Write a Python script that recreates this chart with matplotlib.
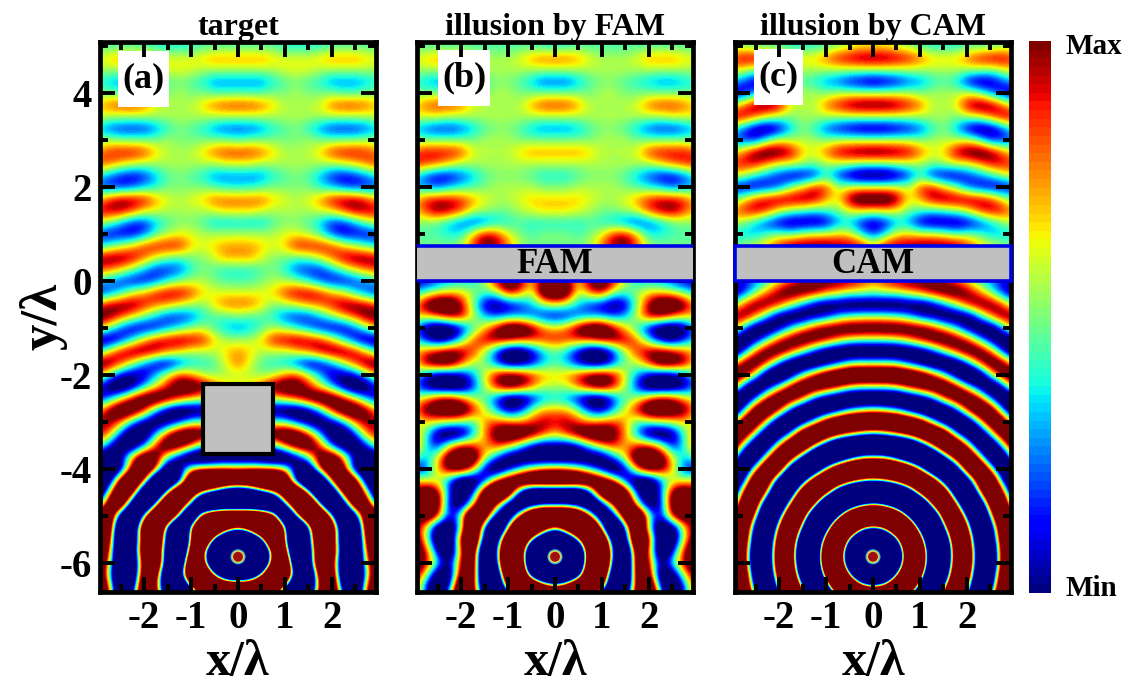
import numpy as np
import matplotlib
matplotlib.use("Agg")
import matplotlib.pyplot as plt
from matplotlib.patches import Rectangle, Circle

plt.rcParams['font.family'] = ['Liberation Serif', 'DejaVu Serif']
plt.rcParams['font.weight'] = 'bold'
plt.rcParams['axes.unicode_minus'] = False

# field, right half only (panels are mirror symmetric)
# columns are x/lambda, rows are y/lambda, +-8 is the end of the colour scale
x_half = [0, 0.25, 0.5, 0.75, 1, 1.25, 1.5, 1.75, 2, 2.25, 2.5, 2.75, 3]
y_rows = [5 - 0.25 * i for i in range(48)]

target_rows = [
    [-1, -1, -1, -1, -2, -2, -2, -2, -1, -1, -1, -1, -1],
    [4, 4, 4, 3, 2, 2, 2, 3, 4, 4, 4, 3, 2],
    [1, 1, 1, 1, 2, 2, 2, 1, 1, 1, 1, 1, 1],
    [-4, -4, -4, -2, -1, 0, -1, -2, -4, -4, -4, -3, -2],
    [-1, -1, -1, 0, 0, 1, 0, 0, 0, -1, -1, 0, 0],
    [6, 6, 5, 3, 1, 1, 1, 2, 5, 6, 6, 5, 3],
    [1, 1, 1, 1, 1, 1, 1, 1, 1, 1, 1, 1, 2],
    [-5, -5, -4, -2, -1, 0, -2, -4, -6, -6, -6, -5, -3],
    [-1, 0, 0, 0, 0, 0, 1, 0, 0, 0, 0, 1, 0],
    [6, 6, 5, 3, 1, 1, 1, 3, 6, 7, 7, 6, 4],
    [2, 2, 1, 1, 1, 1, 1, 1, 1, 2, 3, 5, 6],
    [-4, -4, -4, -2, -1, 0, -1, -3, -6, -7, -6, -4, -2],
    [-2, -2, -1, 0, 0, 0, 0, -2, -3, -5, -6, -6, -5],
    [5, 5, 5, 3, 2, 1, 2, 4, 7, 8, 8, 6, 3],
    [3, 3, 2, 1, 1, 1, 1, 2, 3, 6, 8, 8, 7],
    [-3, -3, -3, -1, 0, 0, -1, -3, -6, -6, -3, 0, 2],
    [1, 1, 1, 1, 2, 2, 1, -1, -5, -7, -7, -7, -6],
    [4, 4, 3, 2, 3, 7, 7, 7, 6, 3, 1, -1, -3],
    [4, 4, 2, 0, 0, -1, 0, 2, 5, 8, 9, 9, 8],
    [-2, -2, -1, 0, -2, -5, -6, -6, -3, 0, 3, 5, 6],
    [-1, -1, 0, 1, 1, 0, -2, -5, -7, -7, -6, -4, -2],
    [2, 2, 2, 3, 6, 8, 8, 7, 4, 2, -2, -5, -7],
    [5, 5, 3, 0, 1, 2, 4, 5, 7, 9, 9, 8, 5],
    [0, -1, -1, -2, -5, -6, -6, -3, 0, 3, 6, 9, 10],
    [-4, -3, -1, 1, 0, -2, -4, -7, -8, -8, -5, 0, 4],
    [1, 1, 3, 7, 8, 9, 8, 7, 3, -2, -7, -10, -9],
    [4, 3, 1, 1, 1, 3, 5, 8, 10, 10, 8, 3, -3],
    [5, 2, -1, -2, -3, -6, -9, -8, -4, 1, 6, 10, 11],
    [1, 1, 0, 1, 4, 6, 2, -3, -8, -9, -7, -1, 4],
    [3, 3, 6, 10, 12, 11, 7, 2, -3, -9, -13, -11, -5],
    [2, 2, 2, 2, 4, 7, 11, 14, 13, 8, 2, -4, -8],
    [-9, -9, -9, -11, -12, -13, -10, -3, 7, 13, 14, 9, 3],
    [-3, -3, -3, 0, -1, -6, -10, -12, -9, -3, 5, 9, 7],
    [12, 12, 12, 12, 14, 13, 6, -3, -12, -13, -5, 5, 8],
    [-2, -2, -2, -2, 6, 12, 14, 6, -5, -12, -13, -5, 2],
    [-14, -14, -15, -16, -16, -9, -1, 12, 14, 4, -8, -14, -10],
    [4, 5, 4, 3, 2, -10, -15, 8, 20, 10, -12, -16, 1],
    [30, 32, 36, 36, 22, -12, -30, -25, 8, 26, 12, -14, -16],
    [-30, -25, -10, 2, 24, 32, 2, -32, -24, 14, 24, 0, -18],
    [-45, -45, -48, -45, -5, 27, 37, -3, -35, -15, 22, 15, -12],
    [50, 50, 40, 15, -45, -2, 35, 36, 0, -35, -12, 22, 18],
    [4, 20, 50, 55, 3, -50, -8, 36, 22, -24, -28, 20, 24],
    [-55, -45, -12, 50, 8, -55, -12, 32, 20, -24, -28, 15, 22],
    [-60, -60, -50, 20, 25, -50, -20, 30, 22, -20, -28, 10, 20],
    [-30, -45, -50, 20, 40, -40, -20, 30, 15, -22, -25, 5, 18],
    [-50, -40, 0, 50, 40, -20, -35, 20, 20, -22, -25, 0, 20],
    [40, 40, 50, 45, 0, -40, -25, 10, 25, -15, -25, 8, 20],
    [50, 45, 25, 0, -35, -45, -20, 20, 25, -5, -25, 12, 20],
]

fam_rows = [
    [-2, -2, -1, -1, -1, -1, -1, -1, -1, -1, -1, -1, -1],
    [5, 5, 4, 2, 1, 1, 1, 2, 4, 4, 4, 3, 2],
    [1, 1, 1, 1, 1, 1, 1, 1, 1, 1, 1, 1, 1],
    [-5, -5, -3, -1, 0, 0, -1, -2, -3, -4, -4, -3, -2],
    [0, 0, 0, 0, 1, 1, 0, 0, 0, 0, 0, 0, 0],
    [6, 6, 4, 1, 1, 1, 1, 2, 5, 6, 6, 5, 3],
    [1, 1, 1, 1, 1, 1, 1, 1, 1, 1, 2, 2, 2],
    [-4, -4, -3, -1, 0, 0, -1, -3, -5, -6, -6, -5, -3],
    [0, 0, 0, 0, 1, 1, 1, 0, 0, 0, 0, 0, 0],
    [4, 4, 4, 3, 1, 1, 1, 2, 6, 7, 7, 7, 5],
    [1, 1, 1, 1, 1, 1, 1, 1, 1, 3, 5, 6, 7],
    [-2, -2, -1, 0, 0, 0, -1, -3, -5, -7, -7, -5, -2],
    [0, 0, 1, 1, 1, 1, 0, -1, -2, -3, -5, -4, -3],
    [3, 3, 3, 2, 1, 1, 2, 4, 6, 7, 7, 6, 3],
    [3, 3, 2, 1, 0, 0, 1, 2, 6, 8, 9, 6, 3],
    [-2, -2, -2, -1, -2, -3, -5, -6, -5, -3, -1, 0, 0],
    [0, 0, -1, 0, 2, 6, 7, 3, -2, -2, -1, -1, -1],
    [0, 0, 0, 1, 5, 9, 10, 6, 1, 0, 0, 0, 0],
    [0, 0, 0, 0, 0, 0, 0, 0, 0, 0, 0, 0, 0],
    [0, 0, 0, 0, 0, 0, 0, 0, 0, 0, 0, 0, 0],
    [12, 10, 3, 10, 13, 8, 1, -3, -3, -4, -6, -8, -8],
    [14, 12, 0, 5, 7, 0, -1, 1, 3, 3, 2, 0, -3],
    [2, 0, -3, -6, -8, -10, -8, 0, 8, 14, 14, 10, 4],
    [-8, -7, -5, -4, -4, -5, -3, 2, 8, 8, 5, 3, 3],
    [3, 5, 10, 14, 14, 8, 3, -2, -8, -12, -13, -10, -3],
    [7, 6, 6, 6, 8, 9, 8, 5, -2, -8, -10, -6, -2],
    [-1, -3, -8, -12, -12, -6, 1, 6, 9, 10, 8, 6, 3],
    [-1, -3, -7, -10, -10, -5, 0, 1, 6, 12, 12, 9, 2],
    [3, 4, 7, 10, 11, 8, 2, -4, -8, -10, -10, -6, -1],
    [1, 1, 5, 9, 11, 7, 1, -6, -12, -13, -12, -9, -4],
    [-3, -4, -8, -12, -12, -6, -1, 1, 6, 9, 8, 4, 1],
    [4, 4, 0, -6, -8, -3, 2, 8, 13, 14, 12, 10, 4],
    [7, 8, 6, 4, 5, 6, 4, -2, 0, 1, 2, 3, 0],
    [3, 7, 11, 14, 14, 10, 4, -4, -12, -13, -10, -1, 5],
    [-8, -10, -7, -1, 4, 7, 3, 6, 7, 2, -7, -2, 7],
    [-14, -14, -13, -12, -11, -4, 3, 14, 14, 12, 2, -3, 0],
    [5, 4, 1, -4, -9, -14, -8, 5, 12, 10, 4, -6, -8],
    [25, 25, 24, 20, 14, 5, -8, -13, -14, -5, 1, 1, 4],
    [-25, -25, -25, -8, 20, 28, 14, -8, -12, -6, 10, 14, 8],
    [-10, -10, -14, -22, -12, 8, 22, 0, -12, -8, 12, 15, 10],
    [40, 40, 30, 4, -20, -10, 18, 25, 0, -8, 8, 14, 8],
    [0, 20, 40, 40, 0, -35, -4, 25, -2, -14, -12, 2, 10],
    [-40, -30, 0, 40, 30, -20, -15, 30, 8, -15, -14, 2, 12],
    [-60, -50, -40, 30, 40, -10, -30, 22, 5, -16, -8, 8, 14],
    [-30, -50, -45, 35, 45, -15, -30, 20, 8, -10, -1, 8, 14],
    [-55, -45, -20, 45, 30, -25, -28, 18, 12, -14, -12, 2, 10],
    [8, 20, 45, 45, 15, -35, -18, 12, 22, -8, -16, -6, 8],
    [40, 40, 30, 5, -30, -40, -10, 15, 25, 0, -18, -5, 8],
]

cam_rows = [
    [2, 2, 1, 0, -1, -2, -2, -2, -1, -1, -1, 0, 0],
    [9, 9, 8, 7, 5, 3, 3, 3, 5, 7, 8, 8, 6],
    [1, 1, 1, 1, 1, 1, 1, 1, 1, 1, 0, 2, 3],
    [-9, -8, -7, -5, -4, -2, -1, -2, -7, -9, -8, -5, -3],
    [1, 1, 1, 1, 0, 1, 1, 1, 2, 0, -4, -7, -8],
    [10, 10, 9, 7, 5, 1, 1, 2, 8, 10, 9, 5, 1],
    [1, 1, 1, 1, 1, 1, 1, 0, 1, 2, 5, 8, 8],
    [-9, -9, -8, -7, -5, -2, 0, -3, -8, -10, -9, -5, -1],
    [1, 1, 1, 1, 0, 1, 1, 1, 2, -1, -6, -6, -5],
    [10, 10, 9, 8, 5, 2, 3, 8, 10, 11, 9, 5, 2],
    [0, 0, 1, 1, 1, 0, 1, 2, 2, 4, 7, 7, 6],
    [-11, -11, -9, -6, -2, -7, -8, -8, -6, -4, -2, 1, 3],
    [2, 2, 2, 1, 6, 7, 3, 0, -5, -7, -8, -8, -7],
    [12, 12, 9, 2, 4, 8, 9, 9, 9, 8, 6, 2, -1],
    [2, 3, 2, 0, -1, -2, -1, 0, 2, 6, 8, 7, 4],
    [-8, -7, -3, -4, -8, -9, -9, -9, -8, -6, -3, 0, 2],
    [-6, -2, 2, 3, 2, 2, 1, -1, 0, -1, -3, -3, -3],
    [4, 8, 9, 9, 10, 10, 10, 10, 7, 4, 2, 1, 0],
    [0, 0, 0, 0, 0, 0, 0, 0, 0, 0, 0, 0, 0],
    [0, 0, 0, 0, 0, 0, 0, 0, 0, 0, 0, 0, 0],
    [5, 7, 9, 10, 10, 10, 8, 5, 2, -2, -5, -7, -8],
    [0, 1, 1, 3, 5, 8, 10, 11, 9, 5, 0, -6, -9],
    [-12, -12, -12, -11, -11, -9, -4, 1, 7, 10, 10, 6, -1],
    [0, 0, -1, -3, -7, -9, -12, -12, -11, -3, 5, 10, 9],
    [13, 13, 13, 12, 11, 8, 3, -2, -9, -13, -12, -4, 6],
    [0, 0, 1, 4, 8, 11, 13, 11, 7, -1, -9, -13, -9],
    [-15, -15, -15, -14, -12, -7, 0, 7, 12, 12, 6, -6, -13],
    [0, 0, -1, -6, -11, -15, -16, -14, -5, 6, 13, 11, 0],
    [20, 20, 20, 18, 15, 8, 0, -11, -18, -14, 0, 11, 14],
    [0, 0, 2, 8, 12, 15, 16, 11, 0, -10, -16, -8, 8],
    [-18, -18, -18, -16, -12, -6, 6, 13, 16, 9, -5, -15, -13],
    [2, 0, -3, -10, -16, -19, -17, -8, 8, 17, 15, -4, -16],
    [26, 26, 25, 21, 15, 0, -12, -19, -16, 1, 15, 16, -4],
    [-3, 0, 7, 14, 22, 26, 18, -3, -16, -17, 0, 15, 14],
    [-36, -36, -36, -30, -14, 6, 24, 22, 5, -16, -18, 0, 16],
    [2, 0, -12, -27, -36, -32, -7, 16, 24, 4, -17, -18, 7],
    [40, 40, 37, 27, 3, -27, -38, -16, 19, 24, 2, -18, -10],
    [-3, 3, 16, 31, 38, 22, -14, -38, -14, 19, 24, -10, -18],
    [-58, -60, -50, -26, 17, 38, 26, -22, -35, 4, 27, 10, -20],
    [3, -8, -33, -58, -45, 12, 40, 10, -35, -24, 19, 20, -10],
    [60, 58, 45, -8, -57, -40, 24, 35, -12, -38, 4, 28, 2],
    [-8, 10, 50, 52, -19, -60, -4, 40, 10, -38, -14, 26, 12],
    [-60, -56, -8, 56, 22, -52, -33, 34, 24, -32, -20, 22, 18],
    [-30, -46, -43, 41, 44, -44, -45, 27, 29, -27, -27, 19, 20],
    [-30, -46, -41, 41, 44, -44, -41, 27, 29, -27, -27, 19, 20],
    [-60, -55, 0, 57, 22, -54, -29, 34, 22, -32, -20, 23, 18],
    [-1, 15, 50, 51, -19, -60, 0, 40, 8, -39, -12, 26, 12],
    [60, 59, 44, -11, -57, -35, 26, 36, -12, -39, 4, 28, 0],
]

panel_rows = [target_rows, fam_rows, cam_rows]
panel_titles = ['target', 'illusion by FAM', 'illusion by CAM']
panel_tags = ['(a)', '(b)', '(c)']
panel_left = [100, 417, 735]
tag_boxes = [(118, 51, 51, 56), (438, 50, 52, 56), (754, 49, 49, 56)]
x_ticks = [-2, -1, 0, 1, 2]
y_ticks = [-6, -4, -2, 0, 2, 4]
x_minor = [-2.5, -1.5, -0.5, 0.5, 1.5, 2.5]
y_minor = [-5, -3, -1, 1, 3, 5]

W, H = 1129, 693
fig = plt.figure(figsize=(W / 100, H / 100), dpi=100)
cmap = plt.get_cmap('jet', 64)
half_dx = 0.125


def px_axes(left, top, width, height):
    return fig.add_axes([left / W, 1 - (top + height) / H, width / W, height / H])


for i, rows in enumerate(panel_rows):
    ax = px_axes(panel_left[i], 42, 276, 550)
    half = np.array(rows, dtype=float)
    full = np.hstack([half[:, :0:-1], half])
    edge = x_half[-1] + half_dx
    ax.imshow(full, cmap=cmap, vmin=-8, vmax=8, aspect='auto',
              extent=[-edge, edge, y_rows[-1] - half_dx, y_rows[0] + half_dx],
              interpolation='bicubic', interpolation_stage='data', zorder=1)
    ax.set_xlim(-2.94, 2.94)
    ax.set_ylim(-6.62, 5.09)
    ax.set_axisbelow(False)
    ax.set_xticks(x_ticks)
    ax.set_yticks(y_ticks)
    ax.set_xticks(x_minor, minor=True)
    ax.set_yticks(y_minor, minor=True)
    ax.tick_params(which='major', direction='in', length=11, width=2.8, top=True, right=True, labelsize=28, pad=6)
    ax.tick_params(which='minor', direction='in', length=5.5, width=2.8, top=True, right=True)
    for s in ax.spines.values():
        s.set_linewidth(3.4)
    ax.set_xlabel('x/\u03bb', fontsize=36, fontweight='bold', labelpad=2)
    ax.set_title(panel_titles[i], fontsize=23, fontweight='bold', pad=4)
    if i == 0:
        ax.set_ylabel('y/\u03bb', fontsize=38, fontweight='bold', labelpad=-6)
        ax.add_patch(Rectangle((-0.74, -3.68), 1.48, 1.49, fc='#c0c0c0', ec='black', lw=3, zorder=2))
    else:
        ax.tick_params(axis='y', labelleft=False)
        clip = i == 1
        ax.add_patch(Rectangle((-3.0 if clip else -2.95, 0), 6.0 if clip else 5.9, 0.75, fc='#c0c0c0',
                               ec='#0000e6', lw=2.6, clip_on=clip, zorder=4))
        ax.text(0, 0.36, 'FAM' if i == 1 else 'CAM', fontsize=25, fontweight='bold',
                ha='center', va='center', zorder=5)
    # source dot
    ax.add_patch(Circle((0, -5.87), 0.16, fc='#30c0e0', ec='none', zorder=2))
    ax.add_patch(Circle((0, -5.87), 0.135, fc='#f0d040', ec='none', zorder=2))
    ax.add_patch(Circle((0, -5.87), 0.105, fc='#a01010', ec='none', zorder=2))
    # tag box
    bx, by, bw, bh = tag_boxes[i]
    ax.add_patch(Rectangle(((bx - panel_left[i]) / 276, 1 - (by - 42 + bh) / 550), bw / 276, bh / 550,
                           transform=ax.transAxes, fc='white', ec='none', zorder=2))
    ax.text((bx + bw / 2 - panel_left[i]) / 276, 1 - (by + bh / 2 - 42) / 550, panel_tags[i],
            transform=ax.transAxes, fontsize=26, fontweight='bold', ha='center', va='center', zorder=5)

cax = px_axes(1029, 41, 22, 552)
sm = plt.cm.ScalarMappable(cmap=cmap, norm=plt.Normalize(0, 1))
cb = fig.colorbar(sm, cax=cax)
cb.set_ticks([])
cb.outline.set_visible(False)
fig.text(1065 / W, 1 - 47 / H, 'Max', fontsize=21, fontweight='bold', va='center')
fig.text(1065 / W, 1 - 589 / H, 'Min', fontsize=21, fontweight='bold', va='center')

fig.savefig('out.png', dpi=100)
